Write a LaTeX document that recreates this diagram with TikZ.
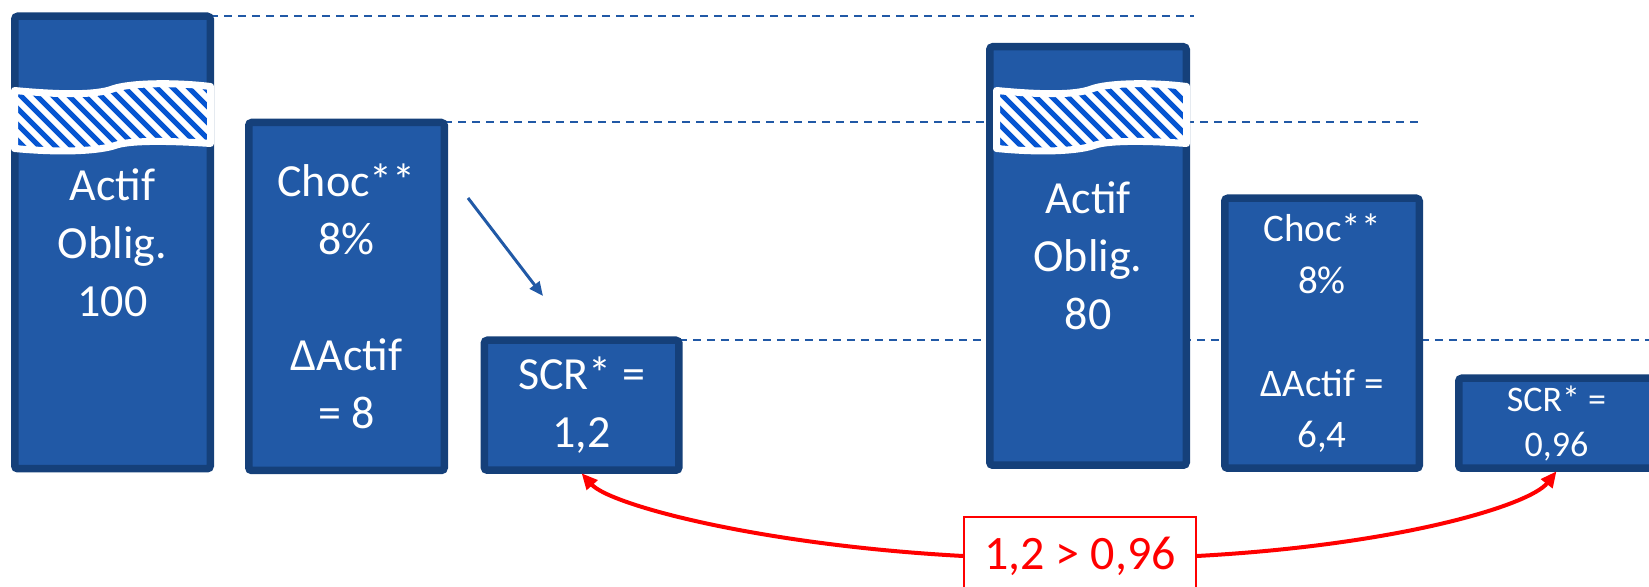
\documentclass[tikz,border=0pt]{standalone}
\usepackage{fontspec}
\setmainfont{Carlito}
\usetikzlibrary{arrows.meta,backgrounds}
\definecolor{boxfill}{RGB}{33,89,166}
\definecolor{boxline}{RGB}{21,64,122}
\definecolor{hatchblue}{RGB}{5,85,210}
\definecolor{cmpred}{RGB}{255,0,0}
\tikzset{
  blockbox/.style={draw=boxline, fill=boxfill, line width=3.75pt, rounded corners=1.5pt,
    text=white, align=center, inner sep=0pt, outer sep=0pt},
  bigtext/.style={font=\fontsize{23}{29}\selectfont},
  midtext/.style={font=\fontsize{19.5}{25.75}\selectfont},
  smalltext/.style={font=\fontsize{18}{22.5}\selectfont},
  levelline/.style={draw=boxfill, line width=1pt, dash pattern=on 4pt off 3pt},
  shockarrow/.style={draw=boxfill, line width=1.5pt, -{Triangle[length=7pt,width=6pt]}},
  cmparrow/.style={draw=cmpred, line width=2pt, -{Triangle[length=8pt,width=7pt]}},
  cmplabel/.style={draw=cmpred, fill=white, line width=0.8pt, text=cmpred,
    font=\fontsize{24}{28}\selectfont, minimum width=116pt, minimum height=39pt, inner sep=0pt},
  stripe/.style={draw=hatchblue, line width=2.5pt}
}
\newcommand\bandshape[2]{({#1+3.5},90.5) .. controls ({#1+0.25*#2},95) and ({#1+0.42*#2},95) .. ({#1+0.5*#2},89) .. controls ({#1+0.58*#2},83) and ({#1+0.8*#2},82) .. ({#1+#2-3.5},86.5) -- ({#1+#2-3.5},143.5) .. controls ({#1+0.8*#2},141) and ({#1+0.6*#2},140) .. ({#1+0.52*#2},145) .. controls ({#1+0.44*#2},151) and ({#1+0.25*#2},153) .. ({#1+3.5},148.5) -- cycle}
\newcommand\wavyband[2]{%
  \path[fill=white] \bandshape{#1}{#2};
  \begin{scope}
    \clip \bandshape{#1}{#2};
    \foreach \k in {-7,...,14} {\draw[stripe] ({#1+\k*16},70) -- ++(95,95);}
  \end{scope}
  \draw[white, line width=3.5pt, line join=round] \bandshape{#1}{#2};
}
\begin{document}
\begin{tikzpicture}[x=0.5pt, y=-0.5pt]
\useasboundingbox (0,0) rectangle (1649,587);
\clip (0,0) rectangle (1649,587);

% boxes
\node[blockbox, bigtext, minimum width=97.75pt, minimum height=226.25pt] (b1) at (112.5,242.5) {Actif\\Oblig.\\100};
\node[blockbox, bigtext, minimum width=97.75pt, minimum height=174pt] (b2) at (346.5,296.5) {Choc**\\8\%\\~\\ΔActif\\= 8};
\node[blockbox, bigtext, minimum width=97.25pt, minimum height=65pt] (b3) at (581.6,405.25) {SCR* =\\1,2};
\node[blockbox, bigtext, minimum width=98.25pt, minimum height=209.25pt] (b4) at (1088,256) {Actif\\Oblig.\\80};
\node[blockbox, midtext, minimum width=97.25pt, minimum height=135pt] (b5) at (1322,333.25) {Choc**\\8\%\\~\\ΔActif =\\6,4};
\node[blockbox, smalltext, minimum width=97.75pt, minimum height=45pt] (b6) at (1556.5,423.25) {SCR* =\\0,96};

% wavy hatched bands
\wavyband{11}{203}
\wavyband{993}{197}

% level lines behind boxes
\coordinate (d1) at (1194,16.25);
\coordinate (d2) at (1420,122.5);
\coordinate (d3) at (1649,340.25);
\begin{scope}[on background layer]
  \draw[levelline] (b1.north east) -- (d1);
  \draw[levelline] (b2.north east) -- (d2);
  \draw[levelline] (b3.north east) -- (d3);
\end{scope}

% shock arrow
\coordinate (s1) at (468,198);
\coordinate (s2) at (543,296);
\draw[shockarrow] (s1) -- (s2);

% comparison
\node[cmplabel] (cmp) at (1080,556) {1,2 > 0,96};
\draw[cmparrow] (cmp.west) .. controls (760,545) and (610,505) .. ([yshift=-1.5pt]b3.south);
\draw[cmparrow] (cmp.east) .. controls (1400,545) and (1530,505) .. ([yshift=-1.5pt]b6.south);
\end{tikzpicture}
\end{document}
